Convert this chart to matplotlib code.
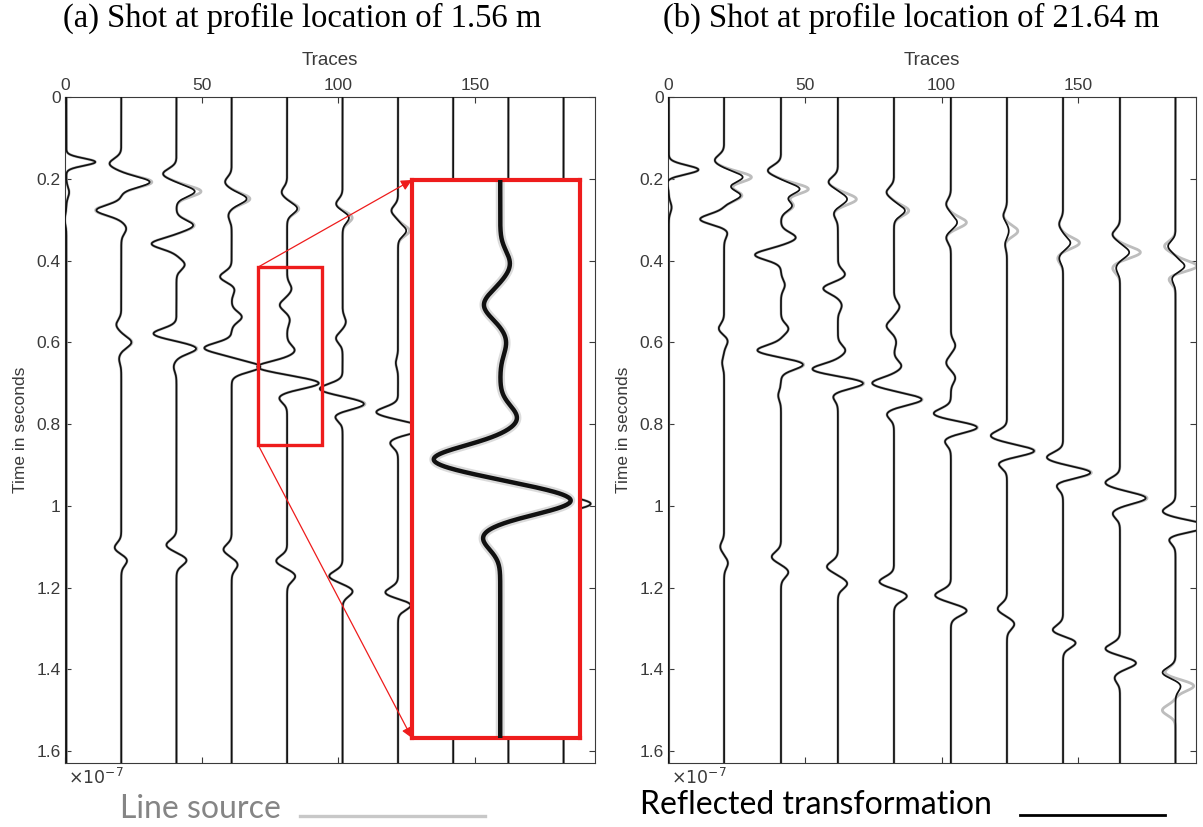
import numpy as np
import matplotlib
matplotlib.use("Agg")
import matplotlib.pyplot as plt
from matplotlib.ticker import FormatStrFormatter

# ---------------- data ----------------
x_ticks = [0, 50, 100, 150]
y_ticks = [0, 0.2, 0.4, 0.6, 0.8, 1.0, 1.2, 1.4, 1.6]

# trace positions (trace number axis)
a_positions = [0.5, 20.6, 40.8, 61.0, 81.3, 101.6, 121.9, 142.1, 162.3, 182.5]
b_positions = [0.3, 20.5, 41.3, 62.1, 82.6, 103.4, 123.9, 144.4, 165.2, 185.5]

# events per trace: (time, black amplitude, gray amplitude[, width])
a_events = [
    [(0.159, 10.6, 10.6, 0.009), (0.233, 1.0, 1.0), (0.300, -0.6, -0.6)],
    [(0.163, -4.3, -4.3), (0.208, 10.4, 11.2), (0.277, -9.1, -9.4), (0.322, 1.8, 1.8),
     (0.557, -1.8, -1.8), (0.600, 3.7, 3.9), (0.640, -0.8, -0.8), (1.103, -2.5, -2.5), (1.133, 2.2, 2.2)],
    [(0.188, -4.9, -4.9), (0.231, 6.7, 9.0), (0.314, 6.1, 6.5), (0.359, -9.1, -9.1), (0.410, 3.0, 3.0),
     (0.579, -8.5, -8.5), (0.615, 7.3, 7.6), (0.660, -1.0, -1.0), (1.096, -3.7, -3.7), (1.133, 3.7, 3.7)],
    [(0.208, -2.4, -2.4), (0.249, 5.5, 6.7), (0.290, -1.2, -1.2), (0.440, -4.3, -4.3), (0.469, 1.2, 1.2),
     (0.538, 3.7, 3.7), (0.614, -10.0, -10.0), (0.660, 10.5, 10.5), (1.107, -3.0, -3.0), (1.144, 2.2, 2.2)],
    [(0.233, -2.0, -2.0), (0.273, 3.7, 4.3), (0.469, 1.6, 1.6), (0.509, -2.7, -2.7), (0.545, 1.0, 1.0),
     (0.620, 2.8, 2.8), (0.660, -11.0, -11.0), (0.700, 11.7, 11.7), (0.735, -3.0, -3.0),
     (1.135, -4.0, -4.0), (1.172, 3.0, 3.0)],
    [(0.262, -2.4, -2.4), (0.295, 2.4, 3.6), (0.550, 1.2, 1.2), (0.590, -2.4, -2.4), (0.714, -8.4, -8.4),
     (0.751, 8.1, 8.5), (0.780, -3.0, -3.0), (1.172, -4.9, -4.9), (1.209, 3.7, 3.7)],
    [(0.278, -2.4, -2.4), (0.327, 3.0, 4.2), (0.650, -0.8, -0.8), (0.771, -8.0, -8.0), (0.810, 10.0, 10.0),
     (0.845, -3.0, -3.0), (1.213, -4.9, -4.9), (1.242, 4.9, 4.9)],
    [(0.300, -2.2, -2.2), (0.345, 3.0, 4.5), (0.830, -8.0, -8.0), (0.870, 10.0, 10.0), (0.905, -3.0, -3.0),
     (1.250, -5.0, -5.0), (1.285, 5.0, 5.0)],
    [(0.325, -2.2, -2.2), (0.370, 3.0, 5.0), (0.895, -7.0, -7.0), (0.935, 10.0, 10.0), (0.970, -3.0, -3.0),
     (1.300, -5.0, -5.0), (1.340, 5.0, 5.0)],
    [(0.350, -2.2, -2.2), (0.395, 3.0, 5.5), (0.955, -6.0, -6.0), (0.995, 10.0, 10.0), (1.030, -3.0, -3.0),
     (1.360, -5.0, -5.0), (1.400, 5.0, 5.0)],
]

b_events = [
    [(0.178, 10.9, 10.9, 0.011), (0.205, -0.8, -0.8), (0.270, 1.0, 1.0)],
    [(0.155, -3.4, -3.4), (0.196, 6.8, 10.0), (0.241, 6.0, 6.5), (0.299, -8.8, -8.8), (0.330, 1.4, 1.4),
     (0.567, -2.0, -2.0), (0.596, 1.4, 1.4), (0.650, -0.7, -0.7), (1.100, -1.4, -1.4), (1.140, 1.4, 1.4)],
    [(0.180, -4.8, -4.8), (0.225, 6.8, 10.0), (0.266, 4.0, 4.5), (0.344, 5.4, 5.4), (0.386, -9.5, -9.5),
     (0.460, 1.4, 1.4), (0.567, 2.7, 2.7), (0.620, -8.8, -8.8), (0.654, 8.2, 8.5), (0.730, -1.0, -1.0),
     (1.125, -3.4, -3.4), (1.162, 2.7, 2.7)],
    [(0.208, -3.4, -3.4), (0.250, 3.4, 6.8), (0.285, -1.5, -1.5), (0.435, 2.7, 2.7), (0.468, -5.4, -5.4),
     (0.510, 1.4, 1.4), (0.620, 2.7, 2.7), (0.666, -9.5, -9.5), (0.700, 9.5, 9.8), (0.730, -2.0, -2.0),
     (1.149, -4.0, -4.0), (1.190, 3.4, 3.4)],
    [(0.233, -2.7, -2.7), (0.278, 4.0, 5.4), (0.513, 2.0, 2.0), (0.560, -2.7, -2.7), (0.600, 0.8, 0.8),
     (0.658, 2.7, 2.7), (0.700, -8.0, -8.0), (0.740, 10.2, 10.4), (0.775, -2.7, -2.7),
     (1.186, -5.4, -5.4), (1.220, 4.8, 4.8)],
    [(0.262, -1.7, -1.7), (0.307, 2.3, 5.7), (0.344, -1.7, -1.7), (0.608, 1.6, 1.6), (0.650, -1.7, -1.7),
     (0.687, 1.6, 1.6), (0.775, -6.5, -6.5), (0.808, 9.8, 10.0), (0.840, -2.4, -2.4),
     (1.219, -5.8, -5.8), (1.256, 5.8, 5.8)],
    [(0.290, -1.3, -1.3), (0.328, 0.7, 4.0), (0.360, -0.7, -0.7), (0.829, -6.0, -6.0), (0.866, 10.2, 10.4),
     (0.895, -3.4, -3.4), (1.252, -3.4, -3.4), (1.289, 2.7, 2.7)],
    [(0.311, -1.4, -1.4), (0.357, 2.7, 6.0), (0.394, -1.4, -2.0), (0.882, -6.0, -6.0), (0.919, 10.2, 10.6),
     (0.948, -2.7, -2.7), (1.305, -4.0, -4.0), (1.334, 4.8, 4.8)],
    [(0.336, -2.7, -2.7), (0.380, 3.4, 7.5), (0.418, -1.4, -2.7), (0.944, -5.4, -5.4), (0.981, 9.5, 10.0),
     (1.018, -2.7, -2.7), (1.350, -5.4, -5.4), (1.384, 6.0, 6.0), (1.420, -2.0, -2.0)],
    [(0.365, -2.7, -4.0), (0.414, 3.4, 8.0), (0.443, -1.4, -2.7), (1.014, -4.8, -4.8), (1.050, 12.0, 12.5),
     (1.080, -2.7, -2.7), (1.408, -4.8, -4.0), (1.440, 2.0, 6.8), (1.500, 0.0, -4.8)],
]

titles = ["(a) Shot at profile location of 1.56 m", "(b) Shot at profile location of 21.64 m"]
legend_labels = ["Line source", "Reflected transformation"]

# zoom box in panel (a): trace range and time range of the small box
zoom_box_x = (70.7, 94.1)
zoom_box_t = (0.416, 0.851)
zoom_trace = 4
inset_x = (127.0, 188.5)      # where the magnified view sits (panel a data units)
inset_t = (0.203, 1.568)
inset_view_x = (66.8, 94.4)   # range shown inside the magnified view
inset_view_t = (0.387, 0.932)

T_MAX = 1.629
t_grid = np.linspace(0, T_MAX, 2500)


def trace_curve(events, which):
    y = np.zeros_like(t_grid)
    for ev in events:
        tc = ev[0]
        amp = ev[1] if which == "black" else ev[2]
        s = ev[3] if len(ev) > 3 else 0.0125
        y += amp * np.exp(-(t_grid - tc) ** 2 / (2 * s ** 2))
    return y


W, H = 1203, 827
fig = plt.figure(figsize=(W / 100, H / 100), dpi=100)
fig.patch.set_facecolor("white")

axis_col = "#3a3a3a"


def setup_axes(rect, xmax):
    ax = fig.add_axes(rect)
    ax.set_xlim(0, xmax)
    ax.set_ylim(T_MAX, 0)
    ax.set_xticks(x_ticks)
    ax.set_yticks(y_ticks)
    ax.yaxis.set_major_formatter(FormatStrFormatter("%g"))
    ax.xaxis.tick_top()
    ax.xaxis.set_label_position("top")
    ax.tick_params(direction="in", length=4, width=0.8, colors=axis_col,
                   top=True, bottom=True, left=True, right=True,
                   labeltop=True, labelbottom=False, labelsize=12.5, pad=3)
    for lab in ax.get_xticklabels() + ax.get_yticklabels():
        lab.set_family("Liberation Sans")
    for sp in ax.spines.values():
        sp.set_color(axis_col)
        sp.set_linewidth(0.8)
    ax.set_xlabel("Traces", family="Liberation Sans", size=13.5, color=axis_col, labelpad=9)
    ax.set_ylabel("Time in seconds", family="Liberation Sans", size=12.5,
                  color=axis_col, labelpad=6)
    return ax


def px_rect(l, r, t, b):
    return [l / W, 1 - b / H, (r - l) / W, (b - t) / H]


ax_a = setup_axes(px_rect(65, 595, 97, 763), 194)
ax_b = setup_axes(px_rect(668, 1196, 97, 763), 193)

for ax, positions, events in [(ax_a, a_positions, a_events), (ax_b, b_positions, b_events)]:
    for pos, ev in zip(positions, events):
        ax.plot(pos + trace_curve(ev, "gray"), t_grid, color="#bdbdbd", lw=2.0, zorder=2,
                solid_capstyle="round")
    for pos, ev in zip(positions, events):
        ax.plot(pos + trace_curve(ev, "black"), t_grid, color="#111111", lw=1.25, zorder=3)

# x10^-7 labels
for ax in (ax_a, ax_b):
    ax.text(0.005, -0.006, r"$\times10^{-7}$", transform=ax.transAxes, ha="left", va="top",
            fontsize=12.5, color=axis_col, family="Liberation Sans")

# titles
fig.text(302 / W, 1 - 18 / H, titles[0], family="Liberation Serif", size=23.5, color="black",
         ha="center", va="center")
fig.text(911 / W, 1 - 18 / H, titles[1], family="Liberation Serif", size=23.5, color="black",
         ha="center", va="center")

# ---------------- zoom box + inset in panel (a) ----------------
red = "#ee1c1c"
ax_a.add_patch(plt.Rectangle((zoom_box_x[0], zoom_box_t[0]), zoom_box_x[1] - zoom_box_x[0],
                             zoom_box_t[1] - zoom_box_t[0], fill=False, ec=red, lw=2.4, zorder=6))
ax_a.annotate("", xy=(inset_x[0], inset_t[0]), xytext=(zoom_box_x[0], zoom_box_t[0]),
              arrowprops=dict(arrowstyle="-|>", color=red, lw=0.9, mutation_scale=16,
                              shrinkA=0, shrinkB=0), zorder=6)
ax_a.annotate("", xy=(inset_x[0], inset_t[1]), xytext=(zoom_box_x[0], zoom_box_t[1]),
              arrowprops=dict(arrowstyle="-|>", color=red, lw=0.9, mutation_scale=16,
                              shrinkA=0, shrinkB=0), zorder=6)

xmax_a = 194
fx0 = inset_x[0] / xmax_a
fw = (inset_x[1] - inset_x[0]) / xmax_a
fy_top = 1 - inset_t[0] / T_MAX
fy_bot = 1 - inset_t[1] / T_MAX
ins = ax_a.inset_axes([fx0, fy_bot, fw, fy_top - fy_bot])
ins.set_zorder(10)
ins.set_facecolor("white")
ins.set_xlim(*inset_view_x)
ins.set_ylim(inset_view_t[1], inset_view_t[0])
ins.set_xticks([])
ins.set_yticks([])
for sp in ins.spines.values():
    sp.set_color(red)
    sp.set_linewidth(3.0)
zx = a_positions[zoom_trace] + trace_curve(a_events[zoom_trace], "black")
ins.plot(zx, t_grid, color="#9a9a9a", lw=6.5, alpha=0.35, zorder=2)
ins.plot(zx, t_grid, color="#111111", lw=3.2, zorder=3)

# ---------------- legend-like annotations ----------------
fig.text(120 / W, 1 - 809 / H, legend_labels[0], family="Lato", size=23, color="#858585",
         ha="left", va="center")
fig.add_artist(plt.Line2D([300 / W, 485 / W], [1 - 816 / H, 1 - 816 / H], color="#c8c8c8", lw=2.4))
fig.text(640 / W, 1 - 805 / H, legend_labels[1], family="Lato", size=23, color="black",
         ha="left", va="center")
fig.add_artist(plt.Line2D([1020 / W, 1165 / W], [1 - 815 / H, 1 - 815 / H], color="black", lw=2.0))

fig.savefig("out.png", dpi=100, facecolor="white")
